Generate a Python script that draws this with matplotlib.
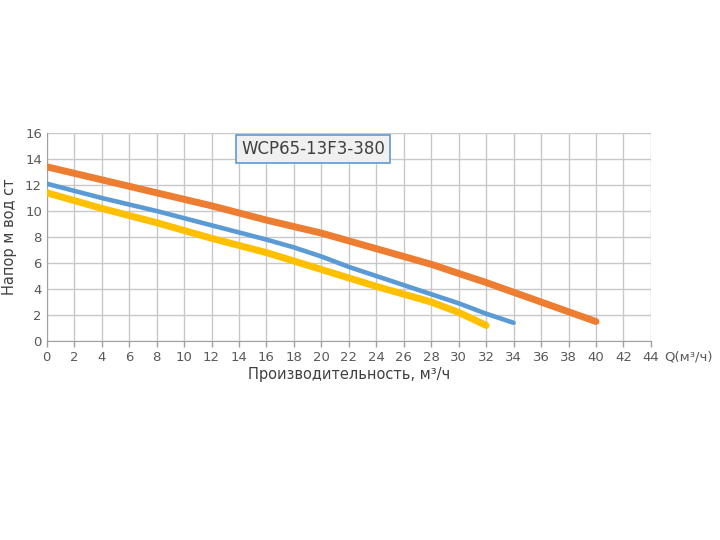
import matplotlib
matplotlib.use("Agg")
import matplotlib.pyplot as plt

orange_q = [0, 4, 8, 12, 16, 20, 24, 28, 32, 36, 40]
orange_h = [13.4, 12.4, 11.4, 10.4, 9.3, 8.3, 7.1, 5.9, 4.5, 3.0, 1.5]
blue_q = [0, 4, 8, 12, 16, 18, 20, 22, 24, 28, 30, 32, 34]
blue_h = [12.1, 11.0, 10.0, 8.9, 7.8, 7.2, 6.5, 5.7, 5.0, 3.6, 2.9, 2.1, 1.4]
yellow_q = [0, 4, 8, 12, 16, 20, 24, 28, 30, 32]
yellow_h = [11.4, 10.2, 9.1, 7.9, 6.8, 5.5, 4.2, 3.0, 2.2, 1.2]
x_ticks = list(range(0, 45, 2))
y_ticks = list(range(0, 17, 2))
title = "WCP65-13F3-380"

fig = plt.figure(figsize=(7.2, 5.4), dpi=100)
ax = fig.add_axes([0.065, 0.3685, 0.839, 0.3852])
ax.plot(orange_q, orange_h, color="#ED7D31", lw=5.0, solid_capstyle="round", zorder=3)
ax.plot(blue_q, blue_h, color="#5B9BD5", lw=3.3, solid_capstyle="round", zorder=3)
ax.plot(yellow_q, yellow_h, color="#FFC000", lw=5.0, solid_capstyle="round", zorder=3)
ax.set_xlim(0, 44)
ax.set_ylim(0, 16)
ax.set_xticks(x_ticks)
ax.set_yticks(y_ticks)
ax.grid(True, color="#c8c8c8", lw=1.0)
ax.set_axisbelow(True)
for s in ["top", "right"]:
    ax.spines[s].set_visible(False)
for s in ["left", "bottom"]:
    ax.spines[s].set_color("#a0a0a0")
ax.tick_params(colors="#595959", labelsize=9.5, length=4, width=1)
ax.tick_params(axis="x", colors="#a0a0a0", labelcolor="#595959")
ax.tick_params(axis="y", length=0)
ax.set_ylabel("Напор м вод ст", fontsize=10.5, color="#404040", labelpad=6)
ax.set_xlabel("Производительность, м³/ч", fontsize=10.5, color="#404040", labelpad=2)
ax.text(1.022, -0.075, "Q(м³/ч)", transform=ax.transAxes, fontsize=9.5, color="#595959",
        ha="left", va="center")
ax.text(0.322, 0.925, title, transform=ax.transAxes, fontsize=12, color="#404040",
        ha="left", va="center",
        bbox=dict(boxstyle="square,pad=0.3", fc="#f0f0f0", ec="#5B9BD5", lw=1.2))
fig.savefig("out.png", dpi=100)
